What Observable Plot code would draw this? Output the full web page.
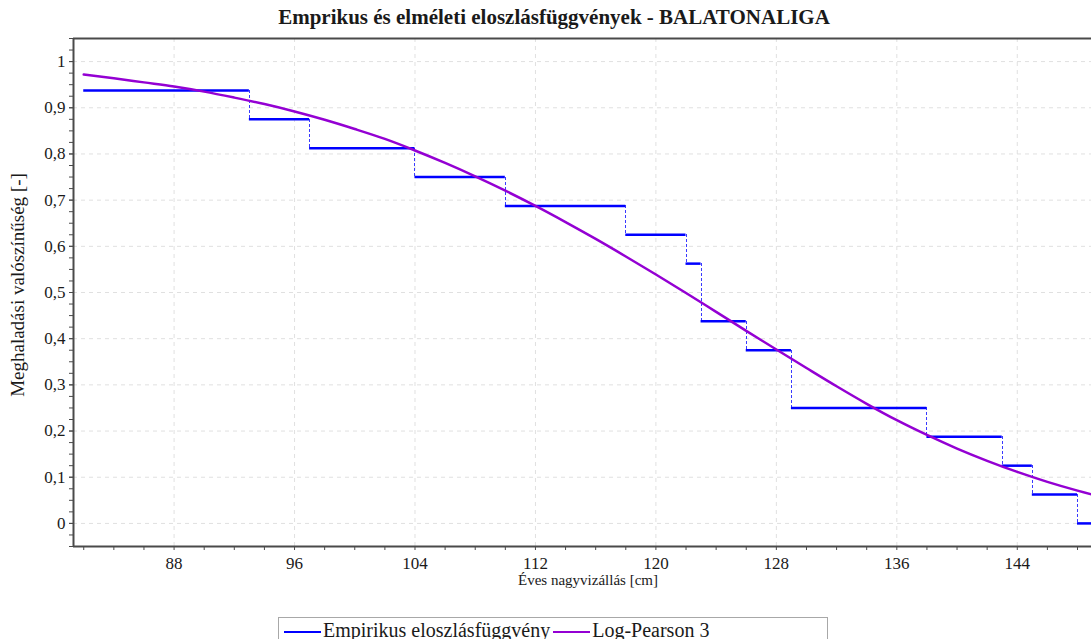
<!DOCTYPE html>
<html>
<head>
<meta charset="utf-8">
<script src="https://cdn.jsdelivr.net/npm/d3@7"></script>
<script src="https://cdn.jsdelivr.net/npm/@observablehq/plot@0.6"></script>
<style>
  body { margin: 0; background: #fff; font-family: "Liberation Serif", "Times New Roman", serif; color: #1a1a1a; }
  #wrap { position: relative; width: 1091px; height: 639px; overflow: hidden; }
  #chart { position: absolute; left: 0; top: 0; }
  #title { position: absolute; top: 5px; left: 0; width: 1108px; text-align: center; font-weight: bold; font-size: 21px; white-space: nowrap; }
  #ylabel { position: absolute; left: 18px; top: 285px; transform: translate(-50%, -50%) rotate(-90deg); font-size: 19px; white-space: nowrap; }
  #xlabel { position: absolute; left: 588px; top: 580px; transform: translate(-50%, -50%); font-size: 15px; white-space: nowrap; }
  #legend { position: absolute; left: 278px; top: 617px; width: 550px; height: 40px; border: 1px solid #a8a8a8; box-sizing: border-box; font-size: 20px; white-space: nowrap; display: flex; gap: 3px; padding-left: 5px; padding-top: 0px; }
  #legend .item { display: flex; align-items: center; height: 24px; }
  #legend svg { margin-right: 2px; }
</style>
</head>
<body>
<div id="wrap">
  <div id="chart"></div>
  <div id="title">Emprikus és elméleti eloszlásfüggvények - BALATONALIGA</div>
  <div id="ylabel">Meghaladási valószínűség [-]</div>
  <div id="xlabel">Éves nagyvizállás [cm]</div>
  <div id="legend"></div>
</div>
<script>
// Empirical exceedance probabilities: step starts (cm) and level of each step
const stepX = [82, 93, 97, 104, 110, 118, 122, 123, 126, 129, 138, 143, 145, 148];
const stepP = [0.9375, 0.875, 0.8125, 0.75, 0.6875, 0.625, 0.5625, 0.4375, 0.375, 0.25, 0.1875, 0.125, 0.0625, 0];
const stepEnd = 150;

// Fitted Log-Pearson 3 exceedance curve
const lp3X = [82, 84, 86, 88, 90, 92, 94, 96, 98, 100, 102, 104, 106, 108, 110, 112, 114, 116, 118, 120, 122, 124, 126, 128, 130, 132, 134, 136, 138, 140, 142, 144, 146, 148, 150];
const lp3P = [0.972, 0.964, 0.955, 0.946, 0.935, 0.922, 0.908, 0.892, 0.874, 0.854, 0.8325, 0.8075, 0.7805, 0.7515, 0.7205, 0.6875, 0.6525, 0.616, 0.578, 0.539, 0.499, 0.458, 0.417, 0.3765, 0.3365, 0.297, 0.259, 0.2235, 0.1915, 0.162, 0.1355, 0.1115, 0.090, 0.071, 0.054];

// Axis extents and ticks
const xDomain = [81.32, 148.93];
const yDomain = [-0.05, 1.05];
const xMajor = [88, 96, 104, 112, 120, 128, 136, 144];
const xMinor = [82, 84, 86, 90, 92, 94, 98, 100, 102, 106, 108, 110, 114, 116, 118, 122, 124, 126, 130, 132, 134, 138, 140, 142, 146, 148];
const yMajor = [0, 0.1, 0.2, 0.3, 0.4, 0.5, 0.6, 0.7, 0.8, 0.9, 1];
const yMinor = d3.range(-0.05, 1.05 + 1e-9, 0.025).map(v => +v.toFixed(3));

const seriesColors = { emp: "#0000ff", lp3: "#9400d3" };

const horiz = stepX.map((x, i) => ({ x1: x, x2: i + 1 < stepX.length ? stepX[i + 1] : stepEnd, p: stepP[i] }));
const vert = stepX.slice(1).map((x, i) => ({ x, p1: stepP[i], p2: stepP[i + 1] }));
const lp3 = lp3X.map((x, i) => ({ x, p: lp3P[i] }));

const fmtY = d => String(+d.toFixed(1)).replace(".", ",");
const axisColor = "#4a4a4a";

const chart = Plot.plot({
  width: 1091,
  height: 600,
  marginLeft: 73,
  marginRight: 0,
  marginTop: 38,
  marginBottom: 54,
  style: { fontFamily: "Liberation Serif, Times New Roman, serif", fontSize: "17px", color: "#1a1a1a", background: "transparent" },
  x: { domain: xDomain, label: null },
  y: { domain: yDomain, label: null },
  marks: [
    Plot.gridX(xMajor, { stroke: "#e0e0e0", strokeOpacity: 1, strokeDasharray: "4,4" }),
    Plot.gridY(yMajor, { stroke: "#e0e0e0", strokeOpacity: 1, strokeDasharray: "4,4" }),
    Plot.ruleX(vert, { x: "x", y1: "p1", y2: "p2", stroke: "#3a3aff", strokeWidth: 1, strokeDasharray: "3,2", shapeRendering: "crispEdges", clip: true }),
    Plot.ruleY(horiz, { y: "p", x1: "x1", x2: "x2", stroke: seriesColors.emp, strokeWidth: 2.5, clip: true }),
    Plot.line(lp3, { x: "x", y: "p", stroke: seriesColors.lp3, strokeWidth: 2.5, curve: "monotone-x", clip: true }),
    // frame: left, bottom and top edges
    Plot.ruleX([xDomain[0]], { stroke: axisColor, strokeWidth: 2 }),
    Plot.ruleY([yDomain[0]], { stroke: axisColor, strokeWidth: 2 }),
    Plot.ruleY([yDomain[1]], { stroke: axisColor, strokeWidth: 2 }),
    Plot.axisX(xMajor, { tickSize: 4, tickPadding: 6, stroke: axisColor, tickFormat: d => String(d), label: null }),
    Plot.axisX(xMinor, { tickSize: 4, stroke: axisColor, tickFormat: () => "", label: null }),
    Plot.axisY(yMajor, { tickSize: 4, tickPadding: 4, stroke: axisColor, tickFormat: fmtY, label: null }),
    Plot.axisY(yMinor, { tickSize: 4, stroke: axisColor, tickFormat: () => "", label: null })
  ]
});
document.getElementById("chart").appendChild(chart);

// Legend entries
const legendItems = [
  { label: "Empirikus eloszlásfüggvény", color: seriesColors.emp },
  { label: "Log-Pearson 3", color: seriesColors.lp3 }
];
const legend = document.getElementById("legend");
for (const it of legendItems) {
  const div = document.createElement("div");
  div.className = "item";
  div.innerHTML = `<svg width="37" height="20"><line x1="0" x2="37" y1="12" y2="12" stroke="${it.color}" stroke-width="2"/></svg><span>${it.label}</span>`;
  legend.appendChild(div);
}
</script>
</body>
</html>
